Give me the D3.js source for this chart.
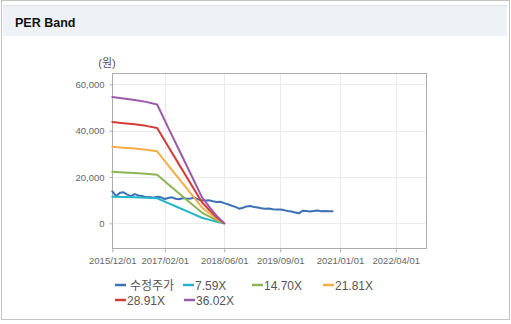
<!DOCTYPE html>
<html>
<head>
<meta charset="utf-8">
<script src="https://cdn.jsdelivr.net/npm/d3@7/dist/d3.min.js"></script>
<style>
  html, body { margin: 0; padding: 0; background: #fff; }
  svg { display: block; }
  text { font-family: "Liberation Sans", Arial, "Noto Sans CJK KR", sans-serif; }
</style>
</head>
<body>
<svg id="chart" width="511" height="324"></svg>
<script>
// Adjusted share price (수정주가), monthly closes in KRW
const priceDates = [
  "2015-12-01","2016-01-01","2016-02-01","2016-03-01","2016-04-01","2016-05-01",
  "2016-06-01","2016-07-01","2016-08-01","2016-09-01","2016-10-01","2016-11-01",
  "2016-12-01","2017-01-01","2017-02-01","2017-03-01","2017-04-01","2017-05-01",
  "2017-06-01","2017-07-01","2017-08-01","2017-09-01","2017-10-01","2017-11-01",
  "2017-12-01","2018-01-01","2018-02-01","2018-03-01","2018-04-01","2018-05-01",
  "2018-06-01","2018-07-01","2018-08-01","2018-09-01","2018-10-01","2018-11-01",
  "2018-12-01","2019-01-01","2019-02-01","2019-03-01","2019-04-01","2019-05-01",
  "2019-06-01","2019-07-01","2019-08-01","2019-09-01","2019-10-01","2019-11-01",
  "2019-12-01","2020-01-01","2020-02-01","2020-03-01","2020-04-01","2020-05-01",
  "2020-06-01","2020-07-01","2020-08-01","2020-09-01","2020-10-01","2020-11-01"
];
const priceValues = [
  13800, 11700, 13200, 13400, 12400, 11700,
  12600, 12000, 11800, 11300, 11400, 11000,
  11500, 11200, 10500, 10900, 11200, 10600,
  10400, 10900, 10600, 10700, 11100, 10300,
  10000, 9800, 9900, 9500, 9200, 9300,
  8700, 8200, 7600, 7100, 6300, 6700,
  7300, 7500, 7000, 6800, 6500, 6300,
  6400, 6100, 6000, 6000, 5700, 5300,
  5100, 4700, 4300, 5400, 5300, 5100,
  5300, 5500, 5200, 5300, 5200, 5200
];

// PER band lines, sampled on these dates
const bandDates = [
  "2015-12-01","2016-03-01","2016-06-01","2016-09-01","2016-12-01","2017-03-01",
  "2017-06-01","2017-09-01","2017-12-01","2018-02-01","2018-04-01","2018-06-01"
];
const band759  = [11480, 11350, 11220, 11040, 10810, 8710, 6600, 4490, 2380, 1470, 680, 0];
const band1470 = [22240, 21980, 21730, 21390, 20930, 16860, 12770, 8690, 4620, 2850, 1310, 0];
const band2181 = [33000, 32610, 32240, 31730, 31060, 25020, 18950, 12890, 6850, 4230, 1940, 0];
const band2891 = [43740, 43220, 42730, 42060, 41170, 33160, 25120, 17090, 9080, 5610, 2570, 0];
const band3602 = [54500, 53850, 53240, 52410, 51290, 41310, 31300, 21290, 11310, 6990, 3210, 0];

const seriesNames  = ["수정주가", "7.59X", "14.70X", "21.81X", "28.91X", "36.02X"];
const seriesColors = ["#3f6fb4", "#22b5cb", "#8db556", "#f4ae45", "#d23d37", "#9a5ba8"];

const xTickDates  = ["2015-12-01","2017-02-01","2018-06-01","2019-09-01","2021-01-01","2022-04-01"];
const xTickLabels = ["2015/12/01","2017/02/01","2018/06/01","2019/09/01","2021/01/01","2022/04/01"];
const yTicks = [0, 20000, 40000, 60000];

const parse = d3.utcParse("%Y-%m-%d");
const svg = d3.select("#chart");

// panel frame and header strip
svg.append("rect").attr("x", 1.5).attr("y", 0.5).attr("width", 508).attr("height", 319)
  .attr("fill", "#fff").attr("stroke", "#c4c4c4");
svg.append("rect").attr("x", 3).attr("y", 5).attr("width", 504).attr("height", 31)
  .attr("fill", "#eef1f6");
svg.append("line").attr("x1", 3).attr("x2", 507).attr("y1", 5.5).attr("y2", 5.5)
  .attr("stroke", "#dde1e8");
svg.append("text").attr("x", 15).attr("y", 26.5)
  .attr("font-size", 12.5).attr("font-weight", "bold").attr("fill", "#111")
  .text("PER Band");

// scales
const x = d3.scaleUtc()
  .domain([parse("2015-12-01"), parse("2022-12-01")])
  .range([112.3, 425.7]);
const y = d3.scaleLinear()
  .domain([-10790, 64750])
  .range([248.3, 73.3]);

const [px0, px1] = x.range();
const [py0, py1] = y.range();

// gridlines
const grid = svg.append("g");
grid.selectAll(".hg").data(yTicks).join("line")
  .attr("x1", px0).attr("x2", px1)
  .attr("y1", d => Math.round(y(d)) + 0.5).attr("y2", d => Math.round(y(d)) + 0.5)
  .attr("stroke", "#ebebeb");
grid.selectAll(".vg").data(xTickDates.slice(1)).join("line")
  .attr("y1", py1).attr("y2", py0)
  .attr("x1", d => Math.round(x(parse(d))) + 0.5).attr("x2", d => Math.round(x(parse(d))) + 0.5)
  .attr("stroke", "#ebebeb");

// axes
const xAxis = d3.axisBottom(x)
  .tickValues(xTickDates.map(parse))
  .tickFormat((d, i) => xTickLabels[i])
  .tickSize(4).tickSizeOuter(0).tickPadding(5);
const gx = svg.append("g").attr("transform", `translate(0,${Math.round(py0) + 0.5})`).call(xAxis);
gx.select(".domain").remove();
gx.selectAll("line").attr("stroke", "#b0b0b0");
gx.selectAll("text").attr("font-size", 9.5).attr("fill", "#666")
  .attr("font-family", "\"Liberation Sans\", Arial, sans-serif");

const yAxis = d3.axisLeft(y)
  .tickValues(yTicks)
  .tickFormat(d3.format(","))
  .tickSize(3).tickSizeOuter(0).tickPadding(5);
const gy = svg.append("g").attr("transform", `translate(${Math.round(px0) + 0.5},0)`).call(yAxis);
gy.select(".domain").remove();
gy.selectAll("line").attr("stroke", "#b0b0b0");
gy.selectAll("text").attr("font-size", 9.5).attr("fill", "#666")
  .attr("font-family", "\"Liberation Sans\", Arial, sans-serif");

// plot border
svg.append("rect")
  .attr("x", Math.round(px0) + 0.5).attr("y", Math.round(py1) + 0.5)
  .attr("width", Math.round(px1) - Math.round(px0)).attr("height", Math.round(py0) - Math.round(py1))
  .attr("fill", "none").attr("stroke", "#adadad");

// unit label
svg.append("text").attr("x", 107).attr("y", 67).attr("text-anchor", "middle")
  .attr("font-size", 11).attr("fill", "#555").text("(원)");

// lines
const line = d3.line()
  .x(d => x(d[0]))
  .y(d => y(d[1]))
  .curve(d3.curveLinear);

const series = [
  priceDates.map((d, i) => [parse(d), priceValues[i]]),
  ...[band759, band1470, band2181, band2891, band3602]
    .map(vals => bandDates.map((d, i) => [parse(d), vals[i]]))
];

svg.append("g").selectAll("path").data(series).join("path")
  .attr("d", line)
  .attr("fill", "none")
  .attr("stroke", (d, i) => seriesColors[i])
  .attr("stroke-width", 2)
  .attr("stroke-linejoin", "round")
  .attr("stroke-linecap", "round");

// legend
const legendPos = [
  [115, 285], [183, 285], [252, 285], [323, 285],
  [115, 300], [184, 300]
];
const legend = svg.append("g").selectAll("g").data(seriesNames).join("g")
  .attr("transform", (d, i) => `translate(${legendPos[i][0]},${legendPos[i][1]})`);
legend.append("line")
  .attr("x1", 0).attr("x2", 11).attr("y1", 0).attr("y2", 0)
  .attr("stroke", (d, i) => seriesColors[i]).attr("stroke-width", 2.5);
legend.append("text")
  .attr("x", (d, i) => i === 0 ? 15 : 12).attr("y", 4.5)
  .attr("font-size", 12).attr("fill", "#555")
  .text(d => d);
</script>
</body>
</html>
